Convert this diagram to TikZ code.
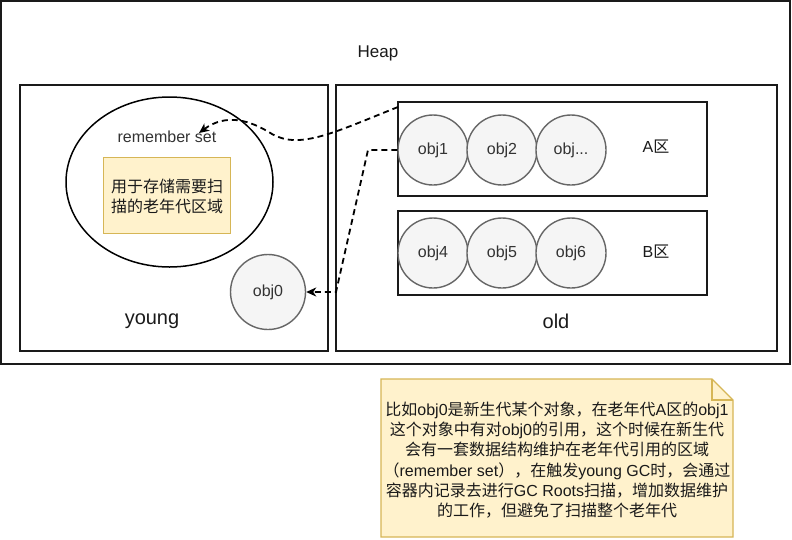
\documentclass[tikz,border=0pt]{standalone}
\usepackage{fontspec}
\setmainfont{Liberation Sans}
\newfontfamily\cjk{Noto Sans CJK SC}
\newcommand\zh[1]{{\cjk #1}}
\usetikzlibrary{arrows.meta,shapes.geometric}
\definecolor{objfill}{HTML}{F5F5F5}
\definecolor{objline}{HTML}{666666}
\definecolor{objtext}{HTML}{333333}
\definecolor{notefill}{HTML}{FFF2CC}
\definecolor{noteline}{HTML}{D6B656}
\definecolor{ink}{HTML}{1A1A1A}
\begin{document}
\begin{tikzpicture}[x=1pt,y=-1pt,
  region/.style={draw=ink, line width=1.4pt, inner sep=0pt},
  objc/.style={circle, draw=objline, fill=objfill, line width=1.4pt, text=objtext, minimum size=70pt, inner sep=0pt, font=\fontsize{16}{19}\selectfont},
  lbl/.style={text=ink, inner sep=0pt, font=\fontsize{16}{20}\selectfont},
  biglbl/.style={text=ink, inner sep=0pt, font=\fontsize{20}{24}\selectfont},
  link/.style={draw=black, line width=1.8pt, dash pattern=on 6pt off 4pt, -{Stealth[length=10pt,width=9pt,inset=3pt]}}
]
\useasboundingbox (0,0) rectangle (792,539);
\fill[white] (0,0) rectangle (792,539);

% heap
\node[region, minimum width=789pt, minimum height=363pt] (heap) at (395.5,182.5) {};
\node[lbl, font=\fontsize{17}{20}\selectfont] (heaplbl) at (378,53) {Heap};

% young
\node[region, minimum width=308pt, minimum height=266pt] (young) at (174,218) {};
\node[biglbl] (younglbl) at (152,321) {young};

% old
\node[region, minimum width=441pt, minimum height=266pt] (old) at (556.5,218) {};
\node[biglbl] (oldlbl) at (556,321) {old};

% A zone
\node[region, minimum width=309pt, minimum height=94pt] (boxA) at (552.5,149) {};
\node[objc] (obj1) at (433,150) {obj1};
\node[objc] (obj2) at (502,150) {obj2};
\node[objc] (obj3) at (571,150) {obj...};
\node[lbl] (alb) at (656,147) {A\zh{区}};

% B zone
\node[region, minimum width=309pt, minimum height=84pt] (boxB) at (552.5,253) {};
\node[objc] (obj4) at (433,253) {obj4};
\node[objc] (obj5) at (502,253) {obj5};
\node[objc] (obj6) at (571,253) {obj6};
\node[lbl] (blb) at (656,252) {B\zh{区}};

% remember set ellipse
\node[ellipse, draw=black, line width=1.5pt, minimum width=207pt, minimum height=170pt, inner sep=0pt] (rset) at (169.5,182) {};
\node[lbl, text=objtext] (rsetlbl) at (167,137) {remember set};
\node[draw=noteline, fill=notefill, line width=1pt, minimum width=127pt, minimum height=76pt, inner sep=0pt] (rbox) at (167,195) {};
\node[lbl, align=center] (rboxtxt) at (167,196) {\zh{用于存储需要扫}\\\zh{描的老年代区域}};

% obj0
\node[objc, minimum size=75pt] (obj0) at (268,292) {obj0};

% connectors
\coordinate (s1) at (398,107);
\coordinate (rstip) at (199,133);
\draw[link] (s1) .. controls (335,132) and (300,150) .. (272,134)
            .. controls (250,120) and (226,113) .. (rstip);
\draw[link] (obj1.west) -- (368,150) -- (336,292) -- (obj0.east);

% note
\coordinate (n1) at (381,379);
\coordinate (n2) at (712,379);
\coordinate (n3) at (733,400);
\coordinate (n4) at (733,537);
\coordinate (n5) at (381,537);
\draw[draw=noteline, fill=notefill, line width=1.4pt] (n1) -- (n2) -- (n3) -- (n4) -- (n5) -- cycle;
\draw[draw=noteline, line width=1.4pt] (n2) -- (712,400) -- (n3);
\node[lbl, align=center, font=\fontsize{16}{20.2}\selectfont] (notetxt) at (557,460)
{\zh{比如}obj0\zh{是新生代某个对象，在老年代}A\zh{区的}obj1\\
\zh{这个对象中有对}obj0\zh{的引用，这个时候在新生代}\\
\zh{会有一套数据结构维护在老年代引用的区域}\\
\zh{（}remember set\zh{），在触发}young GC\zh{时，会通过}\\
\zh{容器内记录去进行}GC Roots\zh{扫描，增加数据维护}\\
\zh{的工作，但避免了扫描整个老年代}};
\end{tikzpicture}
\end{document}
